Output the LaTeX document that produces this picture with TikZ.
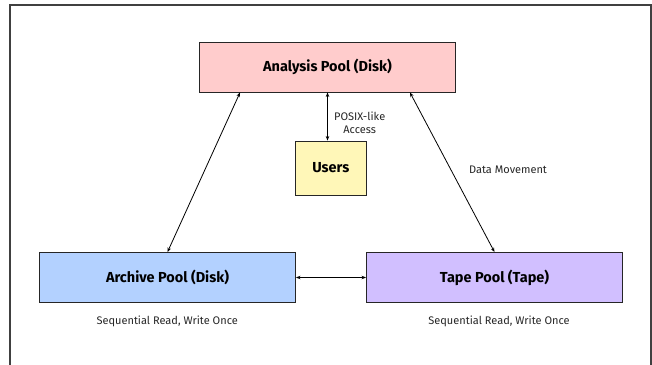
\documentclass[tikz,border=0pt]{standalone}
\usepackage{fontspec}
\setmainfont{Fira Sans}
\usetikzlibrary{arrows.meta,calc}
\definecolor{pinkfill}{HTML}{FFCCCC}
\definecolor{bluefill}{HTML}{B3D1FF}
\definecolor{purplefill}{HTML}{D1BFFF}
\definecolor{yellowfill}{HTML}{FFF7B8}
\begin{document}
\begin{tikzpicture}[x=1pt,y=1pt,
  poolbox/.style={draw=black!85, line width=0.9pt, minimum width=256pt, minimum height=50pt, inner sep=0pt, font=\fontsize{14.5}{17}\selectfont\bfseries},
  userbox/.style={draw=black!85, line width=0.9pt, fill=yellowfill, minimum width=71pt, minimum height=54pt, inner sep=0pt, font=\fontsize{14.5}{17}\selectfont\bfseries},
  conn/.style={line width=0.8pt, {Stealth[length=4.5pt,width=3.5pt]}-{Stealth[length=4.5pt,width=3.5pt]}},
  lbl/.style={font=\fontsize{11}{13}\selectfont, text=black!85, align=center, inner sep=0pt}]
\useasboundingbox (0,0) rectangle (652,364);
\begin{scope}
\clip (0,0) rectangle (652,364);
\draw[black!75, line width=1.2pt] (10,359) rectangle (651,-10);
\end{scope}
\node[poolbox, fill=pinkfill] (analysis) at (327.5,297) {Analysis Pool (Disk)};
\node[userbox] (users) at (330.8,196) {Users};
\node[poolbox, fill=bluefill] (archive) at (167.5,86.5) {Archive Pool (Disk)};
\node[poolbox, fill=purplefill] (tape) at (494.5,86.5) {Tape Pool (Tape)};
\draw[conn] ($(analysis.south west)+(41,0)$) -- (archive.north);
\draw[conn] (analysis.south) -- (analysis.south |- users.north);
\draw[conn] ($(analysis.south east)+(-46,0)$) -- (tape.north);
\draw[conn] (archive.east) -- (tape.west);
\node[lbl] (posix) at (359.7,241.7) {POSIX-like\\Access};
\node[lbl] (datamov) at (508,194.7) {Data Movement};
\node[lbl] (seq1) at (167.2,42.7) {Sequential Read, Write Once};
\node[lbl] (seq2) at (499,42.7) {Sequential Read, Write Once};
\end{tikzpicture}
\end{document}
